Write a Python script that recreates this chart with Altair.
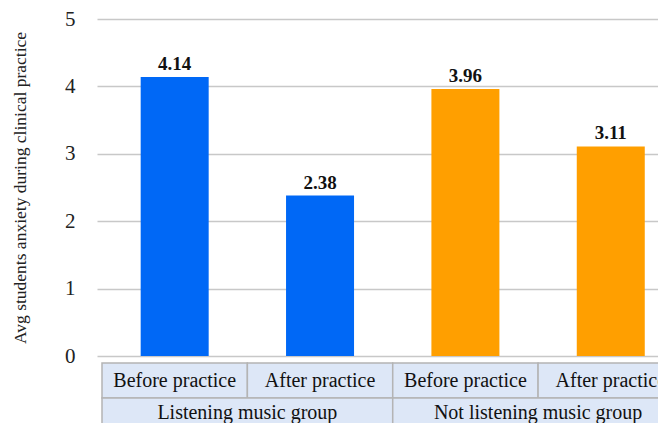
import altair as alt
import pandas as pd

categories = ["Before practice", "After practice", "Before practice", "After practice"]
groups = ["Listening music group", "Listening music group",
          "Not listening music group", "Not listening music group"]
values = [4.14, 2.38, 3.96, 3.11]
group_names = ["Listening music group", "Not listening music group"]
group_colors = ["#0068F6", "#FF9F00"]
y_ticks = [0, 1, 2, 3, 4, 5]
y_title = "Avg students anxiety during clinical practice"

FONT = "Liberation Serif"

df = pd.DataFrame({"category": categories, "group": groups, "value": values})
df["idx"] = range(len(df))
df["x0"] = df["idx"]
df["x1"] = df["idx"] + 1
df["xc"] = df["idx"] + 0.5

gdf = df.groupby("group", as_index=False).agg(x0=("x0", "min"), x1=("x1", "max"))
gdf["xc"] = (gdf["x0"] + gdf["x1"]) / 2

W, H = 561, 404
col_w = 148
xscale = alt.Scale(domain=[0, W / col_w], range=[0, W], nice=False, zero=False)
yscale = alt.Scale(domain=[0, 5], range=[337, 0], nice=False)

color = alt.Color("group:N", scale=alt.Scale(domain=group_names, range=group_colors), legend=None)

base = alt.Chart(df)

bars = base.mark_bar(size=68).encode(
    x=alt.X("xc:Q", scale=xscale, axis=None),
    y=alt.Y("value:Q", scale=yscale,
            axis=alt.Axis(values=y_ticks, format="d", title=y_title, grid=True,
                          gridColor="#c8c8c8", gridWidth=1.5, ticks=False, domain=False,
                          labelFont=FONT, labelFontSize=21, labelColor="#222222",
                          labelPadding=22, titleFont=FONT, titleFontSize=17.5,
                          titleFontWeight="normal", titleColor="#222222", titleX=-77,
                          titleY=168.5, titleAngle=270, titleAlign="center",
                          titleBaseline="middle")),
    color=color,
)

labels = base.mark_text(font=FONT, fontSize=19, fontWeight="bold", baseline="bottom",
                        dy=-3, color="#111111").encode(
    x=alt.X("xc:Q", scale=xscale),
    y=alt.Y("value:Q", scale=yscale),
    text=alt.Text("value:Q", format=".2f"),
)

row1 = base.mark_rect(fill="#dde7f7", stroke="#b4b4b4", strokeWidth=1.5).encode(
    x=alt.X("x0:Q", scale=xscale), x2="x1:Q",
    y=alt.value(344), y2=alt.value(379),
)
row1_text = base.mark_text(font=FONT, fontSize=20, baseline="middle", color="#111111").encode(
    x=alt.X("xc:Q", scale=xscale), y=alt.value(362), text="category:N",
)

gbase = alt.Chart(gdf)
row2 = gbase.mark_rect(fill="#dde7f7", stroke="#b4b4b4", strokeWidth=1.5).encode(
    x=alt.X("x0:Q", scale=xscale), x2="x1:Q",
    y=alt.value(379), y2=alt.value(420),
)
row2_text = gbase.mark_text(font=FONT, fontSize=20, baseline="middle", color="#111111").encode(
    x=alt.X("xc:Q", scale=xscale), y=alt.value(394), text="group:N",
)

chart = alt.layer(bars, labels, row1, row1_text, row2, row2_text).properties(
    width=W, height=H,
    autosize=alt.AutoSizeParams(type="none"),
    padding={"left": 97, "top": 19, "right": 0, "bottom": 0},
    background="white",
).configure_view(stroke=None)

chart.save("out.html", embed_options={"renderer": "svg", "actions": False})
